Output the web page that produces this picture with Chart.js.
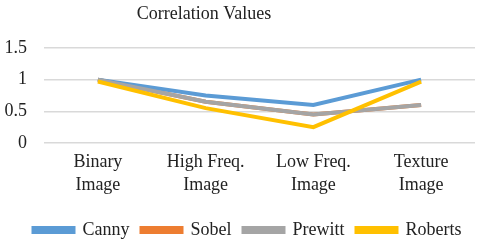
<!DOCTYPE html>
<html>
<head>
<meta charset="utf-8">
<script src="https://cdn.jsdelivr.net/npm/chart.js@4/dist/chart.umd.min.js"></script>
<style>
    body { margin: 0; background: #fff; }
    #wrap { width: 480px; height: 245px; }
</style>
</head>
<body>
<div id="wrap"><canvas id="myChart"></canvas></div>
<script>
    var categories = [['Binary', 'Image'], ['High Freq.', 'Image'], ['Low Freq.', 'Image'], ['Texture', 'Image']];
    var canny = [1, 0.75, 0.6, 1];
    var sobel = [1, 0.65, 0.45, 0.6];
    var prewitt = [1, 0.65, 0.45, 0.6];
    var roberts = [0.97, 0.55, 0.25, 0.97];
    var yTicks = [0, 0.5, 1, 1.5];

    var font = 'Liberation Serif, Times New Roman, serif';

    // title sits left of the plot centre in the original
    const titlePlugin = {
        id: 'titleText',
        afterLayout: function (chart) {
            // nudge legend a little right and down like the original
            chart.legend.left += 16;
            chart.legend.top += 4;
            chart.legend.bottom += 4;
        },
        afterDraw: function (chart) {
            const ctx = chart.ctx;
            ctx.save();
            ctx.font = '18px ' + font;
            ctx.fillStyle = '#222';
            ctx.textAlign = 'center';
            ctx.textBaseline = 'middle';
            ctx.fillText('Correlation Values', 204, 14);
            ctx.restore();
        }
    };

    function line(label, data, color, order) {
        return {
            label: label,
            data: data,
            borderColor: color,
            backgroundColor: color,
            borderWidth: 4,
            pointRadius: 0,
            tension: 0,
            order: order
        };
    }

    const ctx = document.getElementById('myChart').getContext('2d');
    const myChart = new Chart(ctx, {
        type: 'line',
        data: {
            labels: categories,
            datasets: [
                line('Canny', canny, '#5b9bd5', 3),
                line('Sobel', sobel, '#ed7d31', 4),
                line('Prewitt', prewitt, '#a5a5a5', 2),
                line('Roberts', roberts, '#ffc000', 1)
            ]
        },
        options: {
            responsive: true,
            maintainAspectRatio: false,
            animation: false,
            layout: { padding: { top: 48, left: 4, right: 5, bottom: 0 } },
            plugins: {
                title: { display: false },
                tooltip: { enabled: false },
                legend: {
                    position: 'bottom',
                    labels: {
                        boxWidth: 40,
                        boxHeight: 4,
                        padding: 12,
                        color: '#222',
                        font: { family: font, size: 18 },
                        sort: function (a, b) { return a.datasetIndex - b.datasetIndex; }
                    }
                }
            },
            scales: {
                x: {
                    offset: true,
                    grid: { display: false, drawTicks: false },
                    border: { display: false },
                    ticks: {
                        color: '#222',
                        padding: 8,
                        maxRotation: 0,
                        font: { family: font, size: 18, lineHeight: 1.28 }
                    }
                },
                y: {
                    min: 0,
                    max: 1.5,
                    afterBuildTicks: function (axis) {
                        axis.ticks = yTicks.map(function (v) { return { value: v }; });
                    },
                    afterFit: function (axis) { axis.width = 40; },
                    grid: { color: '#d9d9d9', lineWidth: 1.5, drawTicks: false },
                    border: { display: false },
                    ticks: {
                        color: '#222',
                        padding: 17,
                        font: { family: font, size: 18 },
                        callback: function (v) { return String(v); }
                    }
                }
            }
        },
        plugins: [titlePlugin]
    });
</script>
</body>
</html>
